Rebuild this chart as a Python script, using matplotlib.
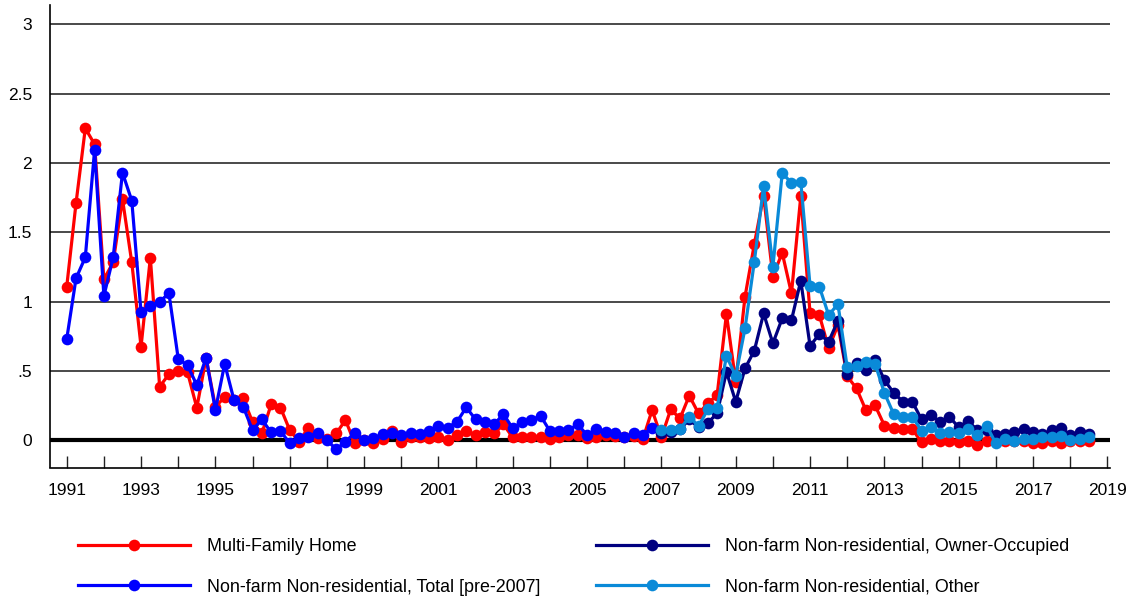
import numpy as np
import matplotlib
matplotlib.use("Agg")
import matplotlib.pyplot as plt
from matplotlib.ticker import FixedLocator

plt.rcParams['font.family'] = ['Liberation Sans', 'DejaVu Sans']

# Quarterly series starting 1991Q1
start_year = 1991

multi_family = [
    1.107, 1.709, 2.25, 2.135, 1.16, 1.283, 1.74, 1.283, 0.674, 1.316,
    0.385, 0.476, 0.498, 0.49, 0.233, 0.594, 0.24, 0.31, 0.29, 0.30,
    0.13, 0.048, 0.257, 0.235, 0.072, -0.012, 0.089, 0.012, 0.01, 0.048,
    0.144, -0.024, 0.0, -0.019, 0.005, 0.067, -0.017, 0.025, 0.025, 0.012,
    0.025, 0.0, 0.036, 0.067, 0.036, 0.055, 0.048, 0.113, 0.019, 0.024,
    0.025, 0.025, 0.005, 0.02, 0.036, 0.036, 0.012, 0.02, 0.036, 0.03,
    0.02, 0.03, 0.005, 0.217, 0.02, 0.221, 0.156, 0.32, 0.192, 0.265,
    0.325, 0.91, 0.42, 1.035, 1.413, 1.764, 1.18, 1.352, 1.058, 1.76,
    0.914, 0.902, 0.662, 0.83, 0.46, 0.373, 0.217, 0.25, 0.105, 0.086,
    0.08, 0.08, -0.017, 0.008, -0.01, -0.005, -0.012, -0.005, -0.034, -0.005,
    -0.005, -0.005, -0.01, -0.005, -0.02, -0.02, -0.01, -0.02, -0.01, -0.01,
    -0.005,
]

nonres_total = [
    0.729, 1.167, 1.319, 2.094, 1.04, 1.319, 1.93, 1.728, 0.922, 0.967,
    0.999, 1.059, 0.587, 0.539, 0.397, 0.594, 0.217, 0.55, 0.289, 0.24,
    0.072, 0.149, 0.055, 0.067, -0.024, 0.012, 0.019, 0.053, 0.0, -0.067,
    -0.012, 0.053, 0.0, 0.012, 0.043, 0.053, 0.04, 0.05, 0.047, 0.062,
    0.103, 0.089, 0.132, 0.236, 0.149, 0.128, 0.113, 0.188, 0.084, 0.132,
    0.144, 0.175, 0.065, 0.065, 0.072, 0.113, 0.036, 0.077, 0.06, 0.053,
    0.019, 0.048, 0.036, 0.089,
]

# 2007Q1 onward
split_start = 2007
owner_occupied = [
    0.053, 0.06, 0.077, 0.15, 0.091, 0.125, 0.192, 0.493, 0.277, 0.517,
    0.645, 0.914, 0.698, 0.878, 0.866, 1.15, 0.679, 0.765, 0.71, 0.861,
    0.476, 0.558, 0.505, 0.58, 0.433, 0.341, 0.277, 0.277, 0.149, 0.18,
    0.132, 0.168, 0.091, 0.137, 0.072, 0.07, 0.036, 0.045, 0.06, 0.077,
    0.06, 0.045, 0.07, 0.09, 0.036, 0.06, 0.045,
]

nonres_other = [
    0.072, 0.072, 0.077, 0.168, 0.101, 0.221, 0.233, 0.606, 0.464, 0.806,
    1.287, 1.833, 1.251, 1.925, 1.858, 1.865, 1.111, 1.107, 0.902, 0.981,
    0.524, 0.534, 0.565, 0.55, 0.34, 0.188, 0.168, 0.168, 0.067, 0.091,
    0.053, 0.055, 0.05, 0.077, 0.036, 0.103, -0.024, 0.01, -0.005, 0.01,
    0.005, 0.02, 0.02, 0.03, 0.0, 0.01, 0.02,
]

labels = [
    "Multi-Family Home",
    "Non-farm Non-residential, Total [pre-2007]",
    "Non-farm Non-residential, Owner-Occupied",
    "Non-farm Non-residential, Other",
]
colors = ["#FF0000", "#0000FF", "#000080", "#0A8AD8"]

y_ticks = [0, 0.5, 1, 1.5, 2, 2.5, 3]
y_tick_labels = ["0", ".5", "1", "1.5", "2", "2.5", "3"]
x_label_years = list(range(1991, 2020, 2))


def quarters(first_year, n):
    return first_year + np.arange(n) / 4.0


fig = plt.figure(figsize=(11.30, 5.96), dpi=100)
ax = fig.add_axes([50 / 1130, 1 - 467.5 / 596, 1060 / 1130, 462.5 / 596])

series = [
    (quarters(start_year, len(multi_family)), multi_family),
    (quarters(start_year, len(nonres_total)), nonres_total),
    (quarters(split_start, len(owner_occupied)), owner_occupied),
    (quarters(split_start, len(nonres_other)), nonres_other),
]

handles = []
for (x, y), c, lab in zip(series, colors, labels):
    h, = ax.plot(x, y, color=c, lw=2.3, marker="o", ms=8.4,
                 markeredgewidth=0, label=lab, zorder=3,
                 solid_joinstyle="round")
    handles.append(h)

ax.set_xlim(1990.55, 2019.07)
ax.set_ylim(-0.198, 3.14)

# horizontal grid and heavy zero line
for v in y_ticks[1:]:
    ax.axhline(v, color="#3a3a3a", lw=1.3, zorder=1)
ax.axhline(0, color="black", lw=3.0, zorder=2)

ax.set_yticks(y_ticks)
ax.set_yticklabels(y_tick_labels)
ax.tick_params(axis="y", length=0, pad=13, labelsize=12.5)

ax.xaxis.set_major_locator(FixedLocator(x_label_years))
ax.xaxis.set_minor_locator(FixedLocator(list(range(1991, 2020))))
ax.tick_params(axis="x", which="both", direction="in", length=9,
               width=1.0, color="#222222", labelsize=12.5, pad=11)
ax.set_xticklabels([str(y) for y in x_label_years])

for s in ["top", "right"]:
    ax.spines[s].set_visible(False)
for s in ["left", "bottom"]:
    ax.spines[s].set_linewidth(1.2)
    ax.spines[s].set_color("black")

fig.legend(handles=handles, labels=labels, loc="center left",
           bbox_to_anchor=(71 / 1130, 1 - 567 / 596), ncol=2, frameon=False,
           fontsize=12.9, handlelength=6.25, handletextpad=0.95,
           columnspacing=3.1, labelspacing=1.3, borderaxespad=0.0)

fig.savefig("out.png", dpi=100)
